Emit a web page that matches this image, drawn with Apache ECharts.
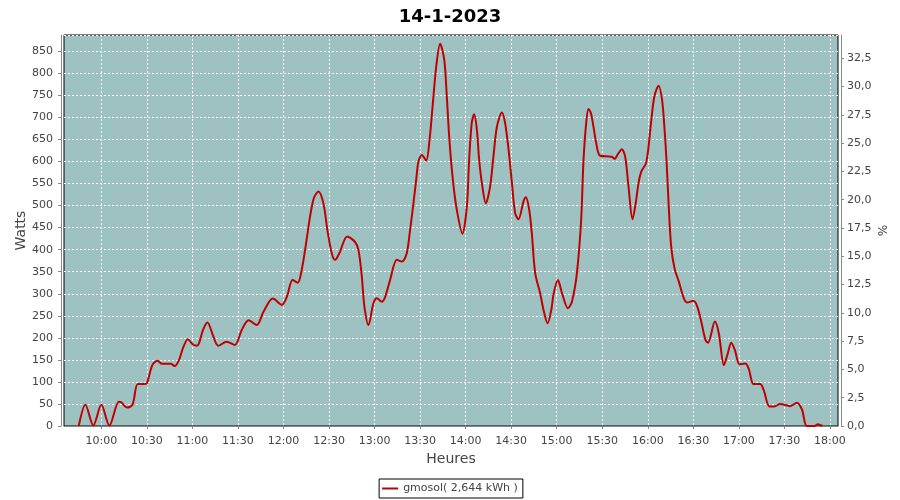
<!DOCTYPE html>
<html>
<head>
<meta charset="utf-8">
<script src="https://cdn.jsdelivr.net/npm/echarts@6/dist/echarts.min.js"></script>
<style>html,body{margin:0;padding:0;background:#fff}#c{width:900px;height:500px}</style>
</head>
<body>
<div id="c"></div>
<script>
// time in minutes since midnight
var times = [585.1,589.5,594.7,600,605.3,611.5,613,617,620.5,624,628,630,633.6,637,640,645.7,648.4,651.2,654,657,660,663,664.4,667,669.9,673.8,677,682.6,688,692.5,697,702.4,706.8,713,719,722.2,726,729.4,732,734.9,737.5,740,743,746.3,748.9,751.8,754,756.8,762,767,769.4,771.6,773.3,776,779.2,781.5,784.8,787,790.2,794.7,798,801.2,803.4,805.6,807.4,808.9,811.2,814,816.2,818.4,820.6,823.2,825.9,827.6,829.3,831.6,834.2,837.9,840.8,842.3,844,845.6,847.4,848.9,850.7,853.3,856.1,858.3,860.6,863.9,866,868.3,870.5,872.6,874.8,878.1,879.7,881.9,883.6,885.8,889.1,891.3,894,896.4,898,900.8,903.5,907.4,910,913.3,916.1,917.6,919.4,920.9,922.5,924.2,926,928.6,936.3,938,940.7,942.9,945.1,947.3,949.9,951.7,953.9,955.7,958.8,960.5,962.1,964.3,967.1,969.4,970.9,972.3,973.8,975.4,977.6,980.4,983.7,986,990,992.6,995.2,998,999.7,1004.2,1006.8,1010.1,1012.4,1015,1017.4,1020.4,1024.2,1026.4,1029.7,1034,1036.3,1040.2,1043.3,1047.2,1053.8,1058.2,1061.5,1064.8,1070,1072,1075];
var watts = [0,48,1,48,1,55,54,42,48,95,95,97,138,148,141,141,136,150,179,197,186,182,188,218,235,203,182,191,184,218,240,229,259,289,275,293,331,325,354,415,475,517,532,505,445,392,377,392,430,418,399,339,271,229,278,290,282,293,331,377,373,392,445,505,558,600,615,602,649,732,815,867,831,747,649,558,490,436,498,604,687,707,672,604,551,505,543,611,679,711,687,626,551,483,469,509,519,490,437,347,301,263,233,263,301,331,301,267,282,347,468,600,687,719,710,679,642,613,611,606,619,628,611,543,469,498,551,577,596,634,687,747,772,740,679,604,498,407,358,328,290,280,284,271,237,195,189,237,210,138,161,189,172,140,142,131,95,95,82,44,44,50,45,53,38,0,0,4,0];
var xTicks = [600,630,660,690,720,750,780,810,840,870,900,930,960,990,1020,1050,1080];
var seriesName = 'gmosol( 2,644 kWh )';
var titleText = '14-1-2023';

var pts = times.map(function(t,i){return [t, watts[i]];});
function hhmm(v){var h=Math.floor(v/60), m=Math.round(v-h*60); return (h<10?'0':'')+h+':'+(m<10?'0':'')+m;}

var chart = echarts.init(document.getElementById('c'), null, {renderer:'canvas'});
var font = 'DejaVu Sans';
chart.setOption({
  animation:false,
  backgroundColor:'#ffffff',
  title:{text:titleText,left:'center',top:3,textStyle:{fontFamily:font,fontSize:18,fontWeight:'bold',color:'#000'}},
  legend:{bottom:2,left:'center',data:[seriesName],icon:'rect',itemWidth:16,itemHeight:2,itemGap:4,
    borderColor:'#000',borderWidth:1,padding:[4,5,4,3],borderRadius:0,
    textStyle:{fontFamily:font,fontSize:11,color:'#444'}},
  grid:{left:64,right:62,top:35,bottom:74,show:true,backgroundColor:'#9EC2C2',borderColor:'#000',borderWidth:1,containLabel:false},
  xAxis:{type:'value',min:575.4,max:1085.3,offset:4,
    name:'Heures',nameLocation:'middle',nameGap:22,nameTextStyle:{fontFamily:font,fontSize:14,color:'#444'},
    axisLine:{show:true,lineStyle:{color:'#888'}},
    axisTick:{show:true,length:3,customValues:xTicks,lineStyle:{color:'#888'}},
    axisLabel:{customValues:xTicks,formatter:hhmm,margin:6,fontFamily:font,fontSize:11,color:'#444'},
    splitLine:{show:true,lineStyle:{color:'#fff',type:[2,2],width:1}}},
  yAxis:[
    {type:'value',min:0,max:887,interval:50,offset:3,position:'left',
     name:'Watts',nameLocation:'middle',nameRotate:90,nameGap:33,nameMoveOverlap:false,nameTextStyle:{fontFamily:font,fontSize:14,color:'#444'},
     axisLine:{show:true,lineStyle:{color:'#888'}},
     axisTick:{show:true,length:3,lineStyle:{color:'#888'}},
     axisLabel:{showMaxLabel:false,margin:8,fontFamily:font,fontSize:11,color:'#444'},
     splitLine:{show:true,lineStyle:{color:'#fff',type:[2,2],width:1}}},
    {type:'value',min:0,max:34.56,interval:2.5,offset:3,position:'right',
     name:'%',nameLocation:'middle',nameRotate:-90,nameGap:34,nameMoveOverlap:false,nameTextStyle:{fontFamily:font,fontSize:12,color:'#444'},
     axisLine:{show:true,lineStyle:{color:'#888'}},
     axisTick:{show:true,length:3,lineStyle:{color:'#888'}},
     axisLabel:{showMaxLabel:false,margin:6,fontFamily:font,fontSize:11,color:'#444',
       formatter:function(v){return v.toFixed(1).replace('.',',');}},
     splitLine:{show:false}}
  ],
  series:[{name:seriesName,type:'line',data:pts,yAxisIndex:0,showSymbol:false,smooth:0.3,
    lineStyle:{color:'#C00000',width:2},itemStyle:{color:'#C00000'}}]
});
</script>
</body>
</html>
